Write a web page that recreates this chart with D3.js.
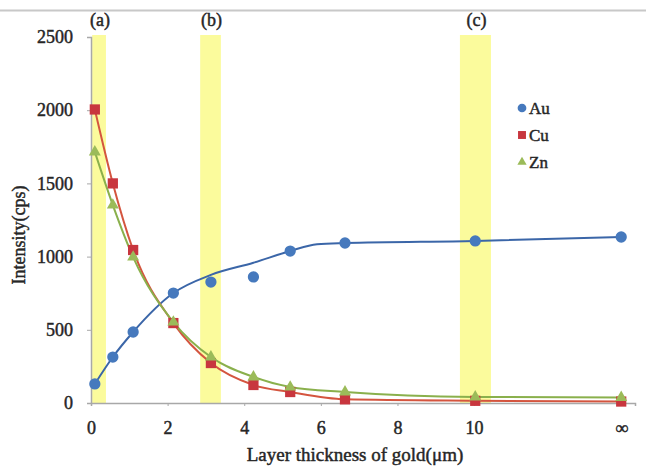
<!DOCTYPE html>
<html>
<head>
<meta charset="utf-8">
<script src="https://cdn.jsdelivr.net/npm/d3@7"></script>
<style>
  body { margin: 0; background: #fff; }
  text { font-family: "Liberation Serif", "DejaVu Serif", serif; fill: #262626; }
  .heavy { stroke: #262626; stroke-width: 0.45; }
</style>
</head>
<body>
<div id="canvas"></div>
<script>
const w = 646, h = 468;

// data
const xTicks = [0, 2, 4, 6, 8, 10];
const infX = 13.84;            // where the "∞" column sits
const yTicks = [0, 500, 1000, 1500, 2000, 2500];

const bands = [
  { label: "(a)", from: 0.03, to: 0.39 },
  { label: "(b)", from: 2.85, to: 3.39 },
  { label: "(c)", from: 9.63, to: 10.44 }
];

const thick = [0.1, 0.57, 1.1, 2.15, 3.13, 4.24, 5.2, 6.63, 10.03, 13.84];
const au = [130, 314, 485, 751, 826, 861, 1038, 1093, 1107, 1134];
const cu = [2005, 1500, 1045, 546, 273, 123, 75, 25, 15, 10];
const zn = [1715, 1352, 997, 553, 314, 178, 109, 75, 41, 38];

// fitted curve for Au (does not pass through every point)
const auFitX = [0.1, 0.57, 1.1, 2.15, 3.13, 4.24, 5.2, 5.9, 6.63, 10.03, 13.84];
const auFitY = [130, 314, 485, 751, 875, 958, 1038, 1085, 1093, 1107, 1134];

const svg = d3.select("#canvas")
  .append("svg")
    .attr("width", w)
    .attr("height", h);

const x = d3.scaleLinear().domain([0, 14.2]).range([91, 635]);
const y = d3.scaleLinear().domain([0, 2500]).range([403, 37]);

// top border line
svg.append("line")
  .attr("x1", 0).attr("x2", w)
  .attr("y1", 10.5).attr("y2", 10.5)
  .attr("stroke", "#c8c8c8").attr("stroke-width", 2);

// highlight bands
svg.selectAll("rect.band")
    .data(bands)
  .enter().append("rect")
    .attr("class", "band")
    .attr("x", d => x(d.from))
    .attr("width", d => x(d.to) - x(d.from))
    .attr("y", y(2500) - 2)
    .attr("height", y(0) - y(2500) + 2)
    .attr("fill", "#fbfb9c");

svg.selectAll("text.band")
    .data(bands)
  .enter().append("text")
    .attr("class", "band heavy")
    .attr("x", d => x((d.from + d.to) / 2) + 1)
    .attr("y", 26)
    .attr("text-anchor", "middle")
    .attr("font-size", 18)
    .text(d => d.label);

// axes
const xAxis = d3.axisBottom(x)
  .tickValues(xTicks.concat([infX]))
  .tickFormat(d => d === infX ? "∞" : d)
  .tickSize(3)
  .tickPadding(15);
const yAxis = d3.axisLeft(y)
  .tickValues(yTicks)
  .tickFormat(d3.format("d"))
  .tickSize(4)
  .tickPadding(14);

const gX = svg.append("g")
  .attr("transform", "translate(0," + y(0) + ")")
  .call(xAxis);
gX.select(".domain").attr("stroke", "#a8a8a8").attr("stroke-width", 1.5);
gX.selectAll(".tick line").attr("stroke", "#a8a8a8");
gX.selectAll(".tick text")
  .attr("class", "heavy")
  .attr("font-size", 18);

const gY = svg.append("g")
  .attr("transform", "translate(" + x(0) + ",0)")
  .call(yAxis);
gY.select(".domain").attr("stroke", "#a8a8a8").attr("stroke-width", 1.5);
gY.selectAll(".tick line").attr("stroke", "#a8a8a8");
gY.selectAll(".tick text")
  .attr("class", "heavy")
  .attr("font-size", 18);

// axis titles
svg.append("text")
  .attr("class", "heavy")
  .attr("x", 355).attr("y", 461)
  .attr("text-anchor", "middle")
  .attr("font-size", 19)
  .text("Layer thickness of gold(μm)");
svg.append("text")
  .attr("class", "heavy")
  .attr("transform", "translate(25,235) rotate(-90)")
  .attr("text-anchor", "middle")
  .attr("font-size", 18)
  .text("Intensity(cps)");

// lines
const line = d3.line()
  .x(d => x(d[0]))
  .y(d => y(d[1]))
  .curve(d3.curveMonotoneX);

const series = [
  { name: "Au", vals: au, color: "#4679bd", line: "#3b66a8", shape: d3.symbolCircle, size: 100,
    fit: auFitX.map((v, i) => [v, auFitY[i]]) },
  { name: "Cu", vals: cu, color: "#c8363e", line: "#d4553f", shape: d3.symbolSquare, size: 105,
    fit: thick.map((v, i) => [v, cu[i]]) },
  { name: "Zn", vals: zn, color: "#9bbb59", line: "#8ab04c", shape: d3.symbolTriangle, size: 62,
    fit: thick.map((v, i) => [v, zn[i]]) }
];

series.forEach(s => {
  svg.append("path")
    .datum(s.fit)
    .attr("d", line)
    .attr("fill", "none")
    .attr("stroke", s.line)
    .attr("stroke-width", 2);
});

series.forEach(s => {
  svg.append("g").selectAll("path")
      .data(s.vals.map((v, i) => [thick[i], v]))
    .enter().append("path")
      .attr("d", d3.symbol().type(s.shape).size(s.size))
      .attr("transform", d => "translate(" + x(d[0]) + "," + y(d[1]) + ")")
      .attr("fill", s.color);
});

// legend
const legend = svg.append("g").attr("transform", "translate(522,108)");
series.forEach((s, i) => {
  const g = legend.append("g").attr("transform", "translate(0," + (i * 27) + ")");
  g.append("path")
    .attr("d", d3.symbol().type(s.shape).size(s.size * 0.6))
    .attr("fill", s.color);
  g.append("text")
    .attr("class", "heavy")
    .attr("x", 7).attr("y", 6)
    .attr("font-size", 17)
    .text(s.name);
});
</script>
</body>
</html>
